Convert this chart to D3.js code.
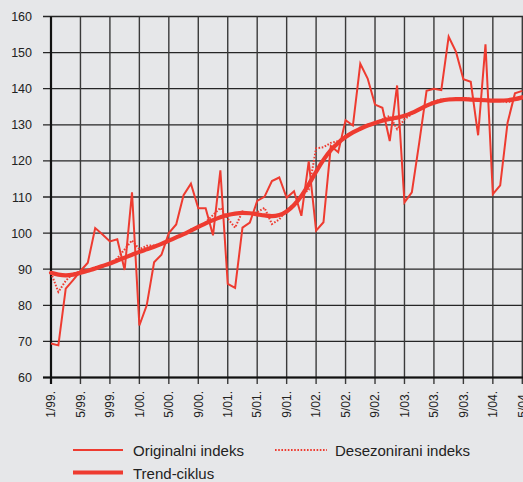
<!DOCTYPE html>
<html><head><meta charset="utf-8">
<script src="https://cdn.jsdelivr.net/npm/d3@7"></script>
<style>html,body{margin:0;padding:0;background:#e6e7e9;overflow:hidden}svg{display:block}</style>
</head><body>
<svg id="c" width="523" height="482"></svg>
<script>
const tickLabels = ["1/99.","5/99.","9/99.","1/00.","5/00.","9/00.","1/01.","5/01.","9/01.","1/02.","5/02.","9/02.","1/03.","5/03.","9/03.","1/04.","5/04."];
const yTicks = [60,70,80,90,100,110,120,130,140,150,160];
const original = [69.4,68.9,84.6,87.0,89.5,91.8,101.4,99.6,97.7,98.3,89.8,111.3,74.4,80.0,91.9,94.0,100.0,102.4,110.5,113.7,106.9,106.9,99.4,117.4,85.9,84.8,101.5,102.9,108.9,110.1,114.4,115.4,109.8,111.6,104.8,119.9,100.7,103.0,124.1,122.4,131.3,129.8,146.9,142.8,135.6,134.7,125.5,140.9,108.5,111.3,125.0,139.4,140.0,139.6,154.4,150.2,142.6,141.9,127.1,152.3,110.8,113.2,130.6,138.7,139.4];
const seasAdj = [89.0,83.7,86.8,88.8,89.3,89.8,90.6,90.8,91.5,93.0,95.5,98.0,95.5,96.5,96.6,97.0,97.8,99.0,99.5,101.0,101.5,103.0,105.0,107.0,104.0,101.5,106.0,105.3,105.8,107.0,102.5,103.8,106.5,108.0,110.5,112.0,123.5,123.8,125.0,125.5,127.0,128.0,129.0,130.0,130.3,131.5,132.5,128.8,131.5,133.0,134.5,135.5,136.5,137.0,137.2,137.0,137.5,137.2,136.7,137.0,136.5,136.8,136.2,137.0,137.8];
const trend = [89.0,88.5,88.3,88.5,89.0,89.6,90.2,90.9,91.6,92.4,93.2,94.0,94.8,95.5,96.2,97.0,97.9,98.8,99.7,100.7,101.7,102.7,103.6,104.4,105.0,105.4,105.6,105.5,105.2,104.9,104.7,105.0,106.0,107.8,110.3,113.5,117.0,120.3,123.0,125.0,126.6,127.9,128.9,129.8,130.5,131.1,131.6,132.0,132.5,133.3,134.3,135.3,136.1,136.7,137.0,137.1,137.1,137.0,136.9,136.8,136.7,136.7,136.8,137.1,137.6];
const legendLabels = ["Originalni indeks","Desezonirani indeks","Trend-ciklus"];

const red = "#ee3b30";
const svg = d3.select("#c");
const x = d3.scaleLinear().domain([0,64]).range([51,522.3]);
const y = d3.scaleLinear().domain([60,160]).range([377.5,16.5]);
const xRight = 540;

// grid
const g = svg.append("g");
g.selectAll("line.h").data(yTicks).join("line")
  .attr("x1",43).attr("x2",xRight).attr("y1",d=>y(d)).attr("y2",d=>y(d))
  .attr("stroke","#262626").attr("stroke-width",1.3);
const tickIdx = tickLabels.map((d,i)=>i*4);
g.selectAll("line.v").data(tickIdx).join("line")
  .attr("x1",d=>x(d)).attr("x2",d=>x(d)).attr("y1",y(160)).attr("y2",384)
  .attr("stroke","#3a3a3a").attr("stroke-width",1.4);
// axes
g.append("line").attr("x1",x(0)).attr("x2",x(0)).attr("y1",y(160)).attr("y2",384).attr("stroke","#111").attr("stroke-width",2.2);
g.append("line").attr("x1",43).attr("x2",xRight).attr("y1",y(60)).attr("y2",y(60)).attr("stroke","#111").attr("stroke-width",2.2);

// y labels
svg.append("g").selectAll("text").data(yTicks).join("text")
  .attr("x",32).attr("y",d=>y(d)+4.5).attr("text-anchor","end")
  .attr("font-family","Liberation Sans, Arial, sans-serif").attr("font-size",12.5).attr("fill","#222")
  .text(d=>d);
// x labels
svg.append("g").selectAll("text").data(tickLabels).join("text")
  .attr("transform",(d,i)=>`translate(${x(i*4)+4.3},391) rotate(-90)`)
  .attr("text-anchor","end")
  .attr("font-family","Liberation Sans, Arial, sans-serif").attr("font-size",12).attr("fill","#222")
  .text(d=>d);

const line = d3.line().x((d,i)=>x(i)).y(d=>y(d));
const plot = svg.append("g");
plot.append("path").datum(original).attr("d",line).attr("fill","none").attr("stroke",red).attr("stroke-width",2).attr("stroke-linejoin","miter");
plot.append("path").datum(seasAdj).attr("d",line).attr("fill","none").attr("stroke",red).attr("stroke-width",2).attr("stroke-dasharray","1.6,1.6");
plot.append("path").datum(trend).attr("d",d3.line().x((d,i)=>x(i)).y(d=>y(d)).curve(d3.curveMonotoneX)).attr("fill","none").attr("stroke",red).attr("stroke-width",4.2).attr("stroke-linecap","round");

// legend
const lg = svg.append("g").attr("font-family","Liberation Sans, Arial, sans-serif").attr("font-size",15).attr("fill","#222");
lg.append("line").attr("x1",73).attr("x2",123).attr("y1",450).attr("y2",450).attr("stroke",red).attr("stroke-width",2);
lg.append("text").attr("x",133).attr("y",456).text(legendLabels[0]);
lg.append("line").attr("x1",275).attr("x2",327).attr("y1",450).attr("y2",450).attr("stroke",red).attr("stroke-width",2).attr("stroke-dasharray","1.6,1.6");
lg.append("text").attr("x",335).attr("y",456).text(legendLabels[1]);
lg.append("line").attr("x1",73).attr("x2",123).attr("y1",472.5).attr("y2",472.5).attr("stroke",red).attr("stroke-width",4.2);
lg.append("text").attr("x",133).attr("y",478.5).text(legendLabels[2]);
</script>
</body></html>
